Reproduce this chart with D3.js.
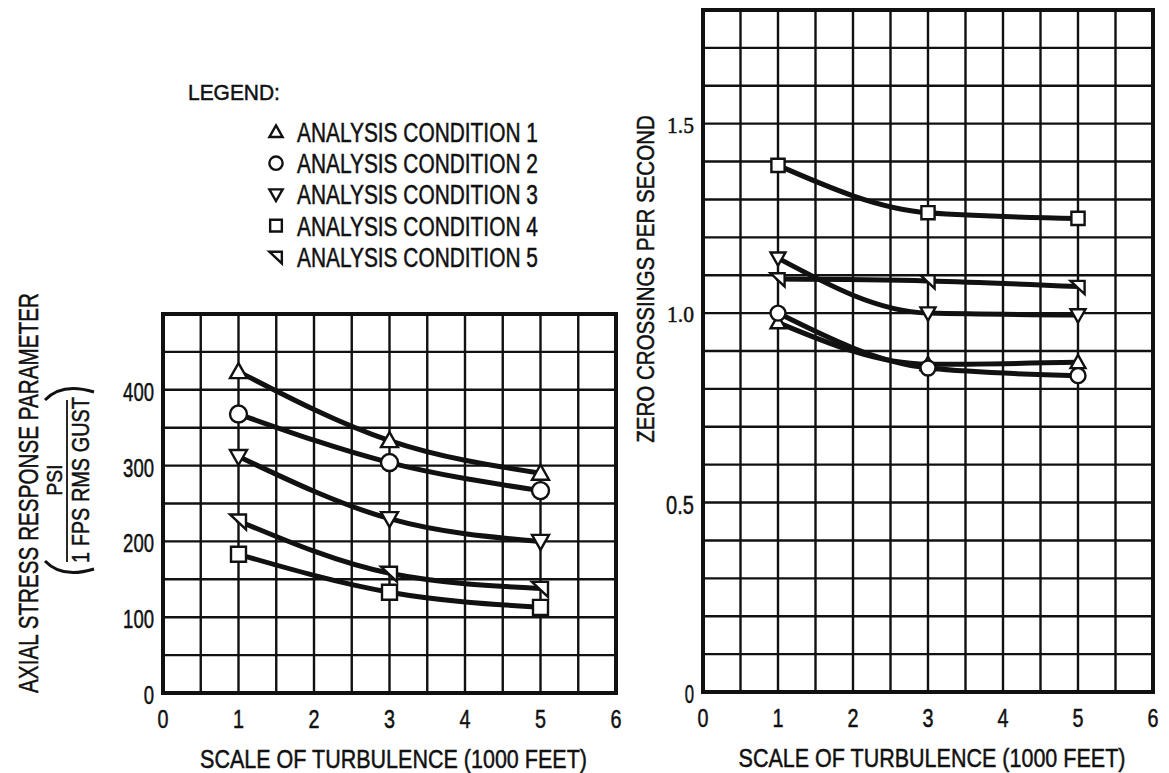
<!DOCTYPE html>
<html>
<head>
<meta charset="utf-8">
<script src="https://cdn.jsdelivr.net/npm/d3@7"></script>
<style>
  html, body { margin: 0; padding: 0; background: #fff; }
  svg { display: block; }
  text { font-family: "Liberation Sans", "DejaVu Sans", sans-serif; fill: #111; stroke: #111; stroke-width: 0.5px; }
</style>
</head>
<body>
<svg id="fig" width="1169" height="773"></svg>
<script>
// Turbulence scale (thousands of feet) at which each condition was analysed
const turbulenceScale = [1, 3, 5];

const conditionNames = [
  "ANALYSIS CONDITION 1",
  "ANALYSIS CONDITION 2",
  "ANALYSIS CONDITION 3",
  "ANALYSIS CONDITION 4",
  "ANALYSIS CONDITION 5"
];

// Axial stress response parameter, psi per 1 fps rms gust
const stress1 = [424, 333, 290];
const stress2 = [368, 304, 267];
const stress3 = [312, 230, 200];
const stress4 = [183, 133, 113];
const stress5 = [227, 158, 138];

// Zero crossings per second
const crossings1 = [0.975, 0.865, 0.87];
const crossings2 = [1.0, 0.855, 0.835];
const crossings3 = [1.145, 1.0, 0.995];
const crossings4 = [1.39, 1.265, 1.25];
const crossings5 = [1.09, 1.085, 1.07];

const xTicks = [0, 1, 2, 3, 4, 5, 6];
const stressTicks = [0, 100, 200, 300, 400];
const crossingTicks = [0, 0.5, 1.0, 1.5];
const crossingTickLabels = ["0", "0.5", "1.0", "1.5"];

const svg = d3.select("#fig");

// Marker shapes per condition
const markerPath = [
  "M0,-8.5L8.5,6.5L-8.5,6.5Z",           // triangle up
  null,                                   // circle
  "M0,8.5L8.5,-6.5L-8.5,-6.5Z",           // triangle down
  "M-7.5,-7.5H7.5V7.5H-7.5Z",             // square
  "M-8.5,-6.5H7.5V8.5Z"                   // corner triangle
];

function drawMarker(g, i, x, y, size) {
  const k = size || 1;
  if (i === 1) {
    g.append("circle").attr("cx", x).attr("cy", y).attr("r", 8.5 * k)
      .attr("fill", "#fff").attr("stroke", "#111").attr("stroke-width", 2.4);
  } else {
    g.append("path").attr("d", markerPath[i])
      .attr("transform", `translate(${x},${y}) scale(${k})`)
      .attr("fill", "#fff").attr("stroke", "#111").attr("stroke-width", 2.4 / k)
      .attr("stroke-linejoin", "miter");
  }
}

// Squeeze a text element horizontally so it spans the given width
function fit(sel, width, x, y, rot) {
  const w = sel.node().getComputedTextLength();
  sel.attr("transform", `translate(${x},${y}) rotate(${rot || 0}) scale(${width / w},1)`);
  return sel;
}

function label(g, str, size, anchor) {
  return g.append("text").attr("x", 0).attr("y", 0)
    .attr("font-size", size).attr("text-anchor", anchor || "middle").text(str);
}

function panel(opts) {
  const g = svg.append("g");
  const x = d3.scaleLinear().domain([0, 6]).range([opts.left, opts.right]);
  const y = d3.scaleLinear().domain([0, opts.ymax]).range([opts.bottom, opts.top]);

  // grid
  const gx = d3.range(0, 6.0001, 0.5);
  const gy = d3.range(0, opts.ymax + opts.ystep / 2, opts.ystep);
  g.selectAll(".vx").data(gx).join("line")
    .attr("x1", d => x(d)).attr("x2", d => x(d))
    .attr("y1", opts.top).attr("y2", opts.bottom)
    .attr("stroke", "#111").attr("stroke-width", 2.4);
  g.selectAll(".hy").data(gy).join("line")
    .attr("y1", d => y(d)).attr("y2", d => y(d))
    .attr("x1", opts.left).attr("x2", opts.right)
    .attr("stroke", "#111").attr("stroke-width", 2.4);
  g.append("rect").attr("x", opts.left).attr("y", opts.top)
    .attr("width", opts.right - opts.left).attr("height", opts.bottom - opts.top)
    .attr("fill", "none").attr("stroke", "#111").attr("stroke-width", 4);

  // x tick labels
  xTicks.forEach(t => {
    const s = label(g, String(t), 26);
    fit(s, 11, x(t), opts.bottom + 35);
  });

  // curves
  const line = d3.line().x((d, i) => x(turbulenceScale[i])).y(d => y(d))
    .curve(d3.curveMonotoneX);
  opts.series.forEach(s => {
    g.append("path").attr("d", line(s)).attr("fill", "none")
      .attr("stroke", "#111").attr("stroke-width", 5)
      .attr("stroke-linecap", "round");
  });
  opts.series.forEach((s, i) => {
    s.forEach((v, j) => drawMarker(g, i, x(turbulenceScale[j]), y(v), opts.markerScale));
  });

  // x axis title
  fit(label(g, "SCALE OF TURBULENCE (1000 FEET)", 26), 387,
      (opts.left + opts.right) / 2 + 4, opts.bottom + 75);
  return { g, x, y };
}

// Left panel: axial stress response
const left = panel({
  left: 163, right: 616, top: 314, bottom: 693,
  ymax: 500, ystep: 50,
  series: [stress1, stress2, stress3, stress4, stress5],
  markerScale: 1
});
stressTicks.forEach(t => {
  const s = label(left.g, String(t), 26, "end");
  const w = String(t).length * 10.3;
  fit(s, w, 154, left.y(t) + 11);
});

// Left axis title with units fraction
fit(label(svg, "AXIAL STRESS RESPONSE PARAMETER", 28), 400, 38, 493, -90);
fit(label(svg, "PSI", 22), 31, 62, 480, -90);
fit(label(svg, "1 FPS RMS GUST", 23), 166, 89, 480, -90);
svg.append("line").attr("x1", 67).attr("x2", 67).attr("y1", 400).attr("y2", 562)
  .attr("stroke", "#111").attr("stroke-width", 1.8);
svg.append("path").attr("d", "M45,400 Q62,382 94,392")
  .attr("fill", "none").attr("stroke", "#111").attr("stroke-width", 3);
svg.append("path").attr("d", "M45,561 Q62,579 94,569")
  .attr("fill", "none").attr("stroke", "#111").attr("stroke-width", 3);

// Right panel: zero crossings
const right = panel({
  left: 703, right: 1153, top: 10, bottom: 692,
  ymax: 1.8, ystep: 0.1,
  series: [crossings1, crossings2, crossings3, crossings4, crossings5],
  markerScale: 0.88
});
crossingTicks.forEach((t, i) => {
  const txt = crossingTickLabels[i];
  const serif = t >= 1;
  const s = right.g.append("text").attr("x", 0).attr("y", 0)
    .attr("font-size", serif ? 24 : 26).attr("text-anchor", "end")
    .style("font-family", serif ? "'Liberation Serif', serif" : null)
    .text(txt);
  fit(s, serif ? 27 : txt.length * 9.3, 694, right.y(t) + (serif ? 9 : 11));
});
fit(label(svg, "ZERO CROSSINGS PER SECOND", 24), 328, 654, 279, -90);

// Legend
const lg = svg.append("g");
fit(label(lg, "LEGEND:", 22, "start"), 92, 188, 100);
conditionNames.forEach((name, i) => {
  const cy = 132 + i * 31.2;
  drawMarker(lg, i, 276, cy, 0.78);
  fit(label(lg, name, 27, "start"), 241, 297, cy + 10);
});
</script>
</body>
</html>
